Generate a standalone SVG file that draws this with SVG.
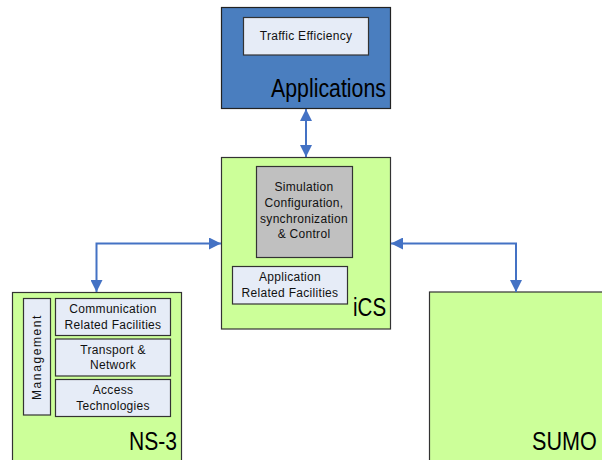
<svg xmlns="http://www.w3.org/2000/svg" width="602" height="460" viewBox="0 0 602 460">
<style>
.big{font-family:"Liberation Sans",Arial,sans-serif;font-size:26px;fill:#000}
.sm{font-family:"Liberation Sans",Arial,sans-serif;font-size:12px;fill:#111;text-anchor:middle;letter-spacing:0.3px}
.green{fill:#CCFF99;stroke:#333;stroke-width:1.2}
.inner{fill:#E6ECF7;stroke:#333;stroke-width:1.2}
.conn{fill:none;stroke:#4472C4;stroke-width:2}
</style>
<defs>
<marker id="ah" viewBox="0 0 10 10" refX="10" refY="5" markerWidth="6" markerHeight="6" orient="auto-start-reverse" markerUnits="strokeWidth">
<path d="M0,0 L10,5 L0,10 z" fill="#4472C4"/>
</marker>
</defs>
<rect width="602" height="460" fill="#fff"/>

<g id="applications">
<rect x="221.5" y="7.5" width="169" height="101" fill="#4A7EBF" stroke="#222" stroke-width="1.2"/>
<rect x="243.5" y="17.5" width="125" height="37.5" class="inner"/>
<text class="sm" x="306" y="40">Traffic Efficiency</text>
<text class="big" transform="translate(271,96.5) scale(0.82,1)" x="0" y="0">Applications</text>
</g>

<g id="ics">
<rect x="221.5" y="157.5" width="169" height="171.5" class="green"/>
<rect x="256.5" y="166.5" width="96" height="91" fill="#C0C0C0" stroke="#333" stroke-width="1.2"/>
<text class="sm" x="304" y="191">Simulation</text>
<text class="sm" x="304" y="207">Configuration,</text>
<text class="sm" x="304" y="223">synchronization</text>
<text class="sm" x="304" y="238">&amp; Control</text>
<rect x="232.5" y="266.5" width="115" height="37.5" class="inner"/>
<text class="sm" x="290" y="281">Application</text>
<text class="sm" x="290" y="296.5">Related Facilities</text>
<text class="big" transform="translate(353,316) scale(0.79,1)" x="0" y="0">iCS</text>
</g>

<g id="ns3">
<rect x="12.5" y="292.5" width="169" height="180" class="green"/>
<rect x="23.5" y="298.5" width="27" height="116.5" class="inner"/>
<text class="sm" transform="translate(41,357) rotate(-90)" x="0" y="0" style="letter-spacing:1.6px">Management</text>
<rect x="55.5" y="298.5" width="115" height="37" class="inner"/>
<text class="sm" x="113" y="313">Communication</text>
<text class="sm" x="113" y="328.5">Related Facilities</text>
<rect x="55.5" y="339" width="115" height="37" class="inner"/>
<text class="sm" x="113" y="353.5">Transport &amp;</text>
<text class="sm" x="113" y="369">Network</text>
<rect x="55.5" y="379.5" width="115" height="37" class="inner"/>
<text class="sm" x="113" y="394">Access</text>
<text class="sm" x="113" y="410">Technologies</text>
<text class="big" transform="translate(129,450) scale(0.81,1)" x="0" y="0">NS-3</text>
</g>

<g id="sumo">
<rect x="429.5" y="292" width="180" height="180" class="green"/>
<text class="big" transform="translate(532,450) scale(0.83,1)" x="0" y="0">SUMO</text>
</g>

<g id="connectors">
<path class="conn" d="M306,109 L306,157" marker-start="url(#ah)" marker-end="url(#ah)"/>
<path class="conn" d="M96.5,292 L96.5,243.5 L221,243.5" marker-start="url(#ah)" marker-end="url(#ah)"/>
<path class="conn" d="M391,243.5 L516,243.5 L516,292" marker-start="url(#ah)" marker-end="url(#ah)"/>
</g>
</svg>
